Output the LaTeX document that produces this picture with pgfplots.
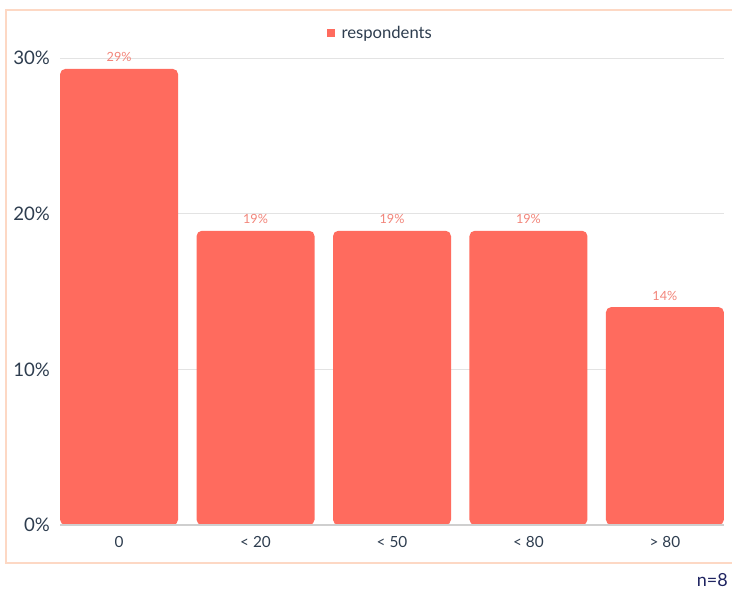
\documentclass[border=0pt]{standalone}
\usepackage{pgfplots}
\pgfplotsset{compat=1.18}
\usepackage{fontspec}
\setmainfont{Lato}
\definecolor{barc}{HTML}{FF6B5E}
\definecolor{labc}{HTML}{F2857A}
\definecolor{tickc}{HTML}{2E3D4F}
\definecolor{framec}{HTML}{FDD8C4}
\definecolor{gridc}{HTML}{E3E3E3}
\definecolor{basec}{HTML}{CFCFCF}
\definecolor{navy}{HTML}{1F2461}
\begin{document}
\begin{tikzpicture}
\useasboundingbox (0,0) rectangle (549pt,443.25pt);
\draw[framec, line width=1.6pt] (4.5pt,21pt) rectangle (556pt,435.75pt);
\begin{axis}[
  at={(45pt,49.5pt)}, anchor=south west,
  scale only axis, width=498pt, height=350.25pt,
  ymin=0, ymax=30,
  xmin=-0.433, xmax=4.433,
  ybar, bar width=88.5pt,
  axis line style={draw=none},
  ytick={0,10,20,30},
  yticklabel={\pgfmathprintnumber{\tick}\%},
  xtick={0,1,2,3,4},
  xticklabels={0,{< 20},{< 50},{< 80},{> 80}},
  major tick length=0pt,
  ymajorgrids, grid style={gridc, line width=0.6pt},
  /pgf/number format/assume math mode=true,
  yticklabel style={font=\fontsize{14}{16}\selectfont, text=tickc, xshift=-4pt},
  xticklabel style={font=\fontsize{11.5}{13}\selectfont, text=tickc, yshift=-5pt},
  nodes near coords={\pgfmathprintnumber[fixed,precision=0]{\pgfplotspointmeta}\%},
  nodes near coords style={font=\fontsize{9.5}{11}\selectfont, text=labc, inner sep=2pt, yshift=3pt},
  legend style={at={(axis description cs:0.4834,1.0535)}, anchor=center, draw=none, fill=none, font=\fontsize{12.5}{14}\selectfont, text=tickc, legend columns=1},
  legend image code/.code={\fill[barc, sharp corners] (0pt,-2.8pt) rectangle (5.6pt,2.8pt);},
  legend cell align=left,
  clip=false,
]
\addplot[fill=barc, draw=none, rounded corners=4pt] coordinates {(0,29.3) (1,18.9) (2,18.9) (3,18.9) (4,14.0)};
\addlegendentry{\hspace{3pt}respondents}
\draw[basec, line width=0.8pt] (axis cs:-0.433,0) -- (axis cs:4.433,0);
\end{axis}
\node[anchor=east, text=navy, font=\fontsize{13.5}{15}\selectfont, inner sep=0pt] at (546pt,8pt) {n=8};
\end{tikzpicture}
\end{document}
